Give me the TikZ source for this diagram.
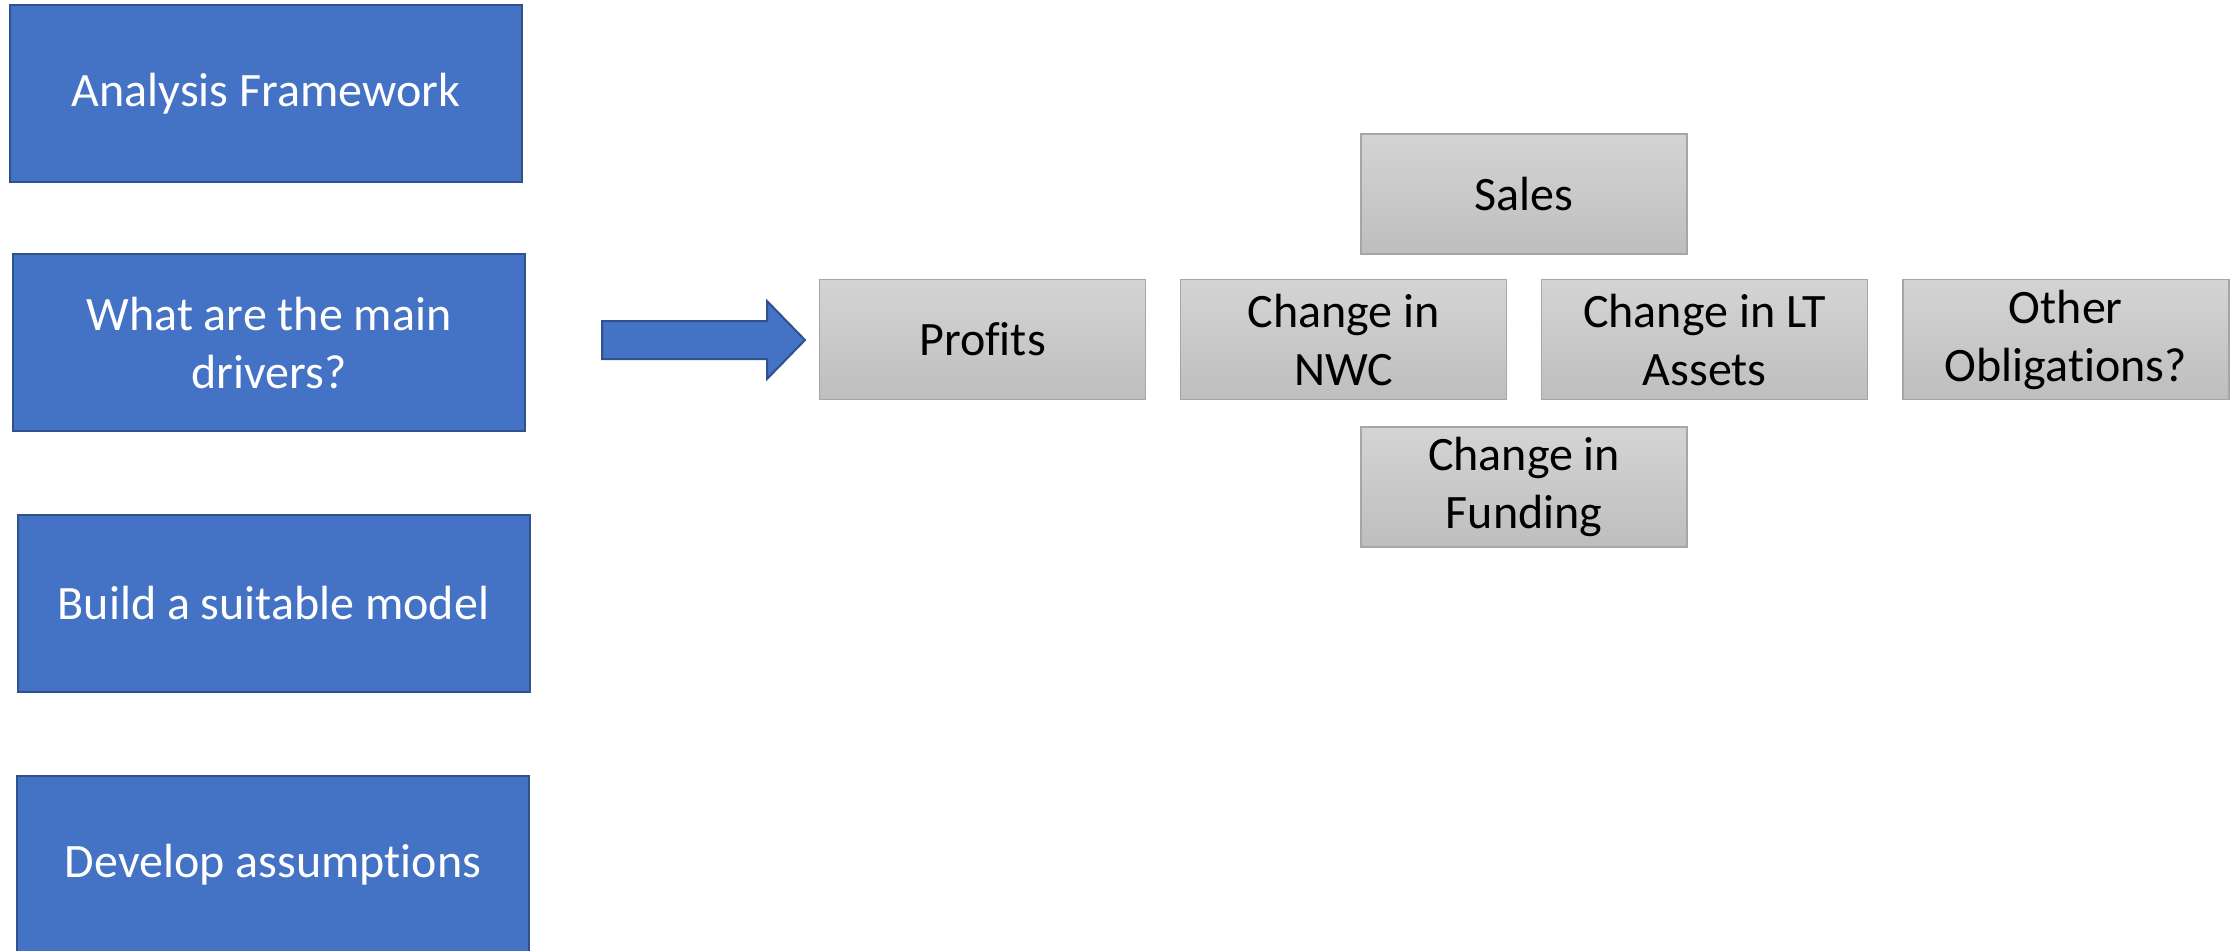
\documentclass[tikz,border=0pt]{standalone}
\usepackage{fontspec}
\setmainfont{Carlito}[Ligatures=NoCommon]
\usepackage{tikz}
\usetikzlibrary{positioning}
\definecolor{stepblue}{HTML}{4472C4}
\definecolor{stepedge}{HTML}{2F528F}
\definecolor{greytop}{HTML}{D4D4D4}
\definecolor{greybot}{HTML}{BEBEBE}
\definecolor{greyedge}{HTML}{A6A6A6}
\tikzset{
	stepbox/.style={draw=stepedge, line width=1pt, fill=stepblue, text=white, minimum width=256pt, minimum height=88.5pt, align=center, font=\fontsize{24}{29}\selectfont}, % Cajas azules de la izquierda
	driver/.style={draw=greyedge, line width=0.75pt, top color=greytop, bottom color=greybot, minimum width=163pt, minimum height=60pt, align=center, font=\fontsize{24}{29}\selectfont}, % Cajas grises
	node distance=16.8pt % Separacion entre cajas grises
}

\begin{document}
\begin{tikzpicture}[x=0.5pt, y=-0.5pt]
	\useasboundingbox (0,0) rectangle (2234,950);
	% pasos
	\node[stepbox] (frame) at (266,93.5) {Analysis Framework};
	\node[stepbox] (drivers) at (269,342.5) {What are the main\\drivers?};
	\node[stepbox] (model) at (273.5,603) {Build a suitable model};
	\node[stepbox] (assump) at (273,864.5) {Develop assumptions};
	% flecha
	\draw[stepedge, line width=1pt, fill=stepblue] (602,321) -- (767,321) -- (767,301) -- (805,340) -- (767,379) -- (767,359) -- (602,359) -- cycle;
	% factores
	\node[driver] (profits) at (982.5,339.5) {Profits};
	\node[driver, right=of profits] (nwc) {Change in\\NWC};
	\node[driver, right=of nwc] (ltassets) {Change in LT\\Assets};
	\node[driver, right=of ltassets] (other) {Other\\Obligations?};
	\node[driver, above=12pt of nwc.north east, xshift=8.4pt] (sales) {Sales};
	\node[driver, below=13pt of nwc.south east, xshift=8.4pt] (funding) {Change in\\Funding};
\end{tikzpicture}
\end{document}
